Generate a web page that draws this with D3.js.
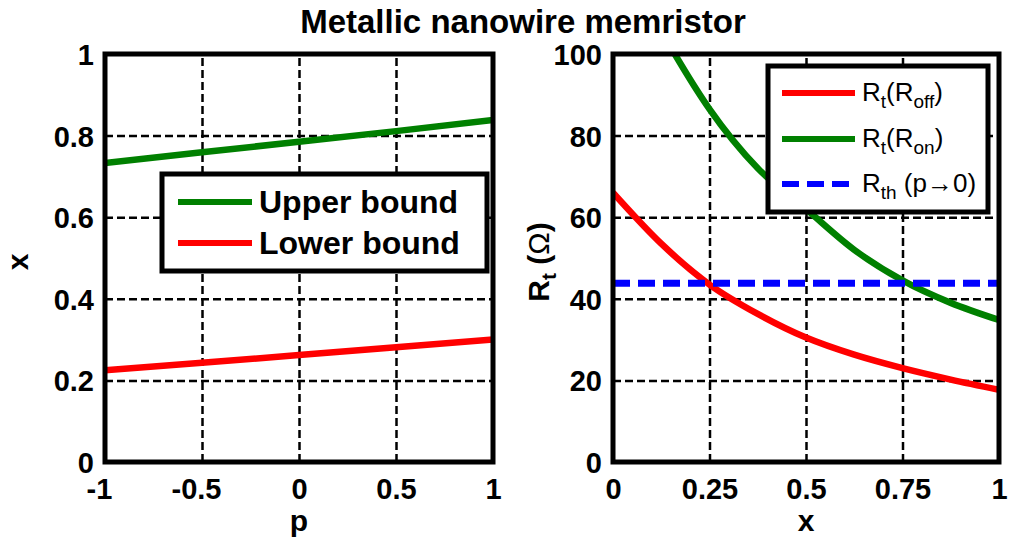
<!DOCTYPE html>
<html><head><meta charset="utf-8">
<script src="https://cdn.jsdelivr.net/npm/d3@7"></script>
<style>body{margin:0;background:#fff}svg{display:block}text{font-family:Arial,"Liberation Sans",sans-serif}</style>
</head><body><svg id="c" width="1012" height="543"></svg>
<script>
// ---- data ----
const pValues = [-1, -0.5, 0, 0.5, 1];
const upperBound = [0.733, 0.759, 0.785, 0.811, 0.838];
const lowerBound = [0.225, 0.243, 0.262, 0.281, 0.300];
const leftXTicks = [-1, -0.5, 0, 0.5, 1];
const leftYTicks = [0, 0.2, 0.4, 0.6, 0.8, 1];

const xRoff = [0, 0.125, 0.25, 0.375, 0.5, 0.625, 0.75, 0.875, 1];
const rtRoff = [66, 53.5, 43.5, 36.3, 30.5, 26.3, 23, 20.2, 17.7];
const xRon = [0.1, 0.16, 0.25, 0.375, 0.5, 0.625, 0.75, 0.875, 1];
const rtRon = [110, 100, 86.5, 72, 62, 52, 44.5, 39, 34.8];
const rThreshold = 43.8;
const rightXTicks = [0, 0.25, 0.5, 0.75, 1];
const rightYTicks = [0, 20, 40, 60, 80, 100];

const svg = d3.select("#c");
const plotTop = 54, plotBottom = 462;
const fmt = d => d3.format("~g")(d).replace("\u2212", "-");

svg.append("text").attr("x", 523).attr("y", 33).attr("text-anchor", "middle")
  .attr("font-size", 33).attr("font-weight", "bold").text("Metallic nanowire memristor");

function panel(opts) {
  const x = d3.scaleLinear().domain(opts.xd).range([opts.x0, opts.x1]);
  const y = d3.scaleLinear().domain(opts.yd).range([plotBottom, plotTop]);
  const g = svg.append("g");
  const id = "clip" + opts.x0;
  svg.append("clipPath").attr("id", id).append("rect")
    .attr("x", opts.x0).attr("y", plotTop).attr("width", opts.x1 - opts.x0).attr("height", plotBottom - plotTop);
  const xa = d3.axisBottom(x).tickValues(opts.xt).tickSize(-(plotBottom - plotTop)).tickFormat(fmt);
  const ya = d3.axisLeft(y).tickValues(opts.yt).tickSize(-(opts.x1 - opts.x0)).tickFormat(fmt);
  const gx = g.append("g").attr("transform", `translate(0,${plotBottom})`).call(xa);
  const gy = g.append("g").attr("transform", `translate(${opts.x0},0)`).call(ya);
  [gx, gy].forEach(a => {
    a.select(".domain").remove();
    a.selectAll("line").attr("stroke", "#000").attr("stroke-width", 2.5).attr("stroke-dasharray", "8,4");
    a.selectAll("text").attr("font-size", 29).attr("font-weight", "bold").attr("fill", "#000")
      .attr("font-family", "Arial, 'Liberation Sans', sans-serif");
  });
  gx.selectAll("text").attr("dy", 0).attr("y", 37).attr("dx", d => d < 0 ? -6 : 0);
  gy.selectAll("text").attr("x", -11).attr("dy", "0.36em");
  gx.selectAll(".tick").filter((d, i, n) => i === 0 || i === n.length - 1).select("line").remove();
  gy.selectAll(".tick").filter((d, i, n) => i === 0 || i === n.length - 1).select("line").remove();
  const plot = g.append("g").attr("clip-path", `url(#${id})`);
  opts.draw(plot, x, y);
  g.append("rect").attr("x", opts.x0).attr("y", plotTop).attr("width", opts.x1 - opts.x0).attr("height", plotBottom - plotTop)
    .attr("fill", "none").attr("stroke", "#000").attr("stroke-width", 5);
  svg.append("text").attr("x", (opts.x0 + opts.x1) / 2).attr("y", 531).attr("text-anchor", "middle")
    .attr("font-size", 30).attr("font-weight", "bold").text(opts.xlabel);
  return {x, y, g};
}

const line = (x, y) => d3.line().x(d => x(d[0])).y(d => y(d[1]));

panel({x0: 105, x1: 493, xd: [-1, 1], yd: [0, 1], xt: leftXTicks, yt: leftYTicks, xlabel: "p",
  draw: (p, x, y) => {
    p.append("path").attr("d", line(x, y)(pValues.map((v, i) => [v, upperBound[i]])))
      .attr("fill", "none").attr("stroke", "#008000").attr("stroke-width", 6.5);
    p.append("path").attr("d", line(x, y)(pValues.map((v, i) => [v, lowerBound[i]])))
      .attr("fill", "none").attr("stroke", "#ff0000").attr("stroke-width", 6.5);
  }});
svg.append("text").attr("transform", "translate(28,262) rotate(-90)").attr("text-anchor", "middle")
  .attr("font-size", 30).attr("font-weight", "bold").text("x");

const lg = svg.append("g");
lg.append("rect").attr("x", 162).attr("y", 174).attr("width", 325).attr("height", 97)
  .attr("fill", "#fff").attr("stroke", "#000").attr("stroke-width", 5);
[["Upper bound", "#008000", 202], ["Lower bound", "#ff0000", 243]].forEach(([t, c, yy]) => {
  lg.append("line").attr("x1", 178).attr("x2", 252).attr("y1", yy).attr("y2", yy).attr("stroke", c).attr("stroke-width", 6);
  lg.append("text").attr("x", 259).attr("y", yy + 11).attr("font-size", 32).attr("font-weight", "bold").text(t);
});

panel({x0: 613, x1: 999, xd: [0, 1], yd: [0, 100], xt: rightXTicks, yt: rightYTicks, xlabel: "x",
  draw: (p, x, y) => {
    p.append("path").attr("d", line(x, y).curve(d3.curveMonotoneX)(xRoff.map((v, i) => [v, rtRoff[i]])))
      .attr("fill", "none").attr("stroke", "#ff0000").attr("stroke-width", 6.5);
    p.append("path").attr("d", line(x, y).curve(d3.curveMonotoneX)(xRon.map((v, i) => [v, rtRon[i]])))
      .attr("fill", "none").attr("stroke", "#008000").attr("stroke-width", 6.5);
    p.append("path").attr("d", line(x, y)([[0, rThreshold], [1, rThreshold]]))
      .attr("fill", "none").attr("stroke", "#0000ff").attr("stroke-width", 7).attr("stroke-dasharray", "17,8");
  }});
const yl = svg.append("text").attr("transform", "translate(549,262) rotate(-90)").attr("text-anchor", "middle")
  .attr("font-size", 30).attr("font-weight", "bold");
yl.append("tspan").text("R");
yl.append("tspan").attr("font-size", 21).attr("dy", 7).text("t");
yl.append("tspan").attr("dy", -7).text(" (");
yl.append("tspan").attr("font-weight", "normal").text("Ω");
yl.append("tspan").text(")");

const rg = svg.append("g");
rg.append("rect").attr("x", 768).attr("y", 66).attr("width", 220).attr("height", 146)
  .attr("fill", "#fff").attr("stroke", "#000").attr("stroke-width", 5);
const entries = [
  {c: "#ff0000", y: 93, dash: null, parts: [["R", 0], ["t", 1], ["(R", 0], ["off", 1], [")", 0]]},
  {c: "#008000", y: 139, dash: null, parts: [["R", 0], ["t", 1], ["(R", 0], ["on", 1], [")", 0]]},
  {c: "#0000ff", y: 184, dash: "17,8", parts: [["R", 0], ["th", 1], [" (p→0)", 0]]}
];
entries.forEach(e => {
  const l = rg.append("line").attr("x1", 782).attr("x2", 855).attr("y1", e.y).attr("y2", e.y)
    .attr("stroke", e.c).attr("stroke-width", 6);
  if (e.dash) l.attr("stroke-dasharray", e.dash);
  const t = rg.append("text").attr("x", 862).attr("y", e.y + 8).attr("font-size", 26);
  let prev = 0;
  e.parts.forEach(([s, sub]) => {
    const ts = t.append("tspan").text(s).attr("font-size", sub ? 19 : 26);
    const dy = (sub ? 7 : 0) - prev;
    if (dy) ts.attr("dy", dy);
    prev = sub ? 7 : 0;
  });
});
</script></body></html>
